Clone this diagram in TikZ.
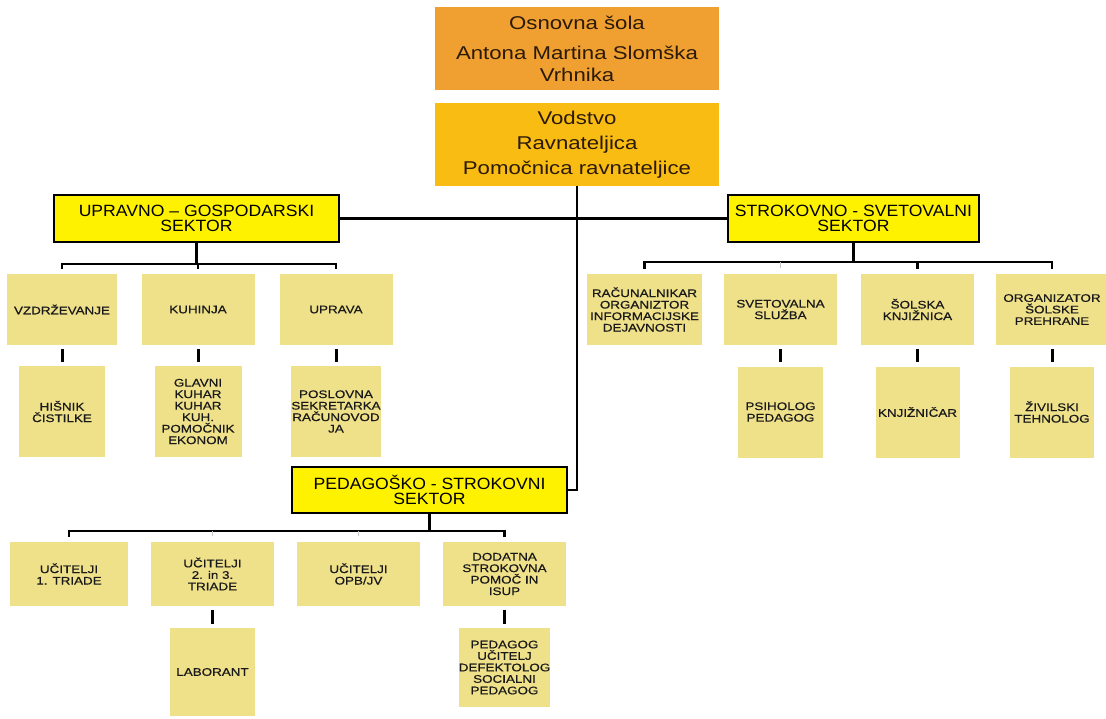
\documentclass[tikz,border=0pt]{standalone}
\usepackage{fontspec}
\setmainfont{Liberation Sans}
\newfontfamily\topfont[FakeStretch=1.2]{Liberation Sans}
\newfontfamily\secfont[FakeStretch=1.08]{Liberation Sans}
\newfontfamily\boxfont[FakeStretch=1.22,FakeBold=0.5]{Liberation Sans}
\definecolor{orangebox}{HTML}{F0A030}
\definecolor{goldbox}{HTML}{F9BC12}
\definecolor{palebox}{HTML}{EFE08A}
\definecolor{topink}{HTML}{2B1A0A}
\begin{document}
\begin{tikzpicture}[x=1pt,y=-1pt,
  topbox/.style={fill=orangebox, draw=none, minimum width=284pt, minimum height=83pt,
    align=center, inner sep=0pt, text=topink, font=\topfont\fontsize{18.5}{22}\selectfont},
  sector/.style={fill=yellow, draw=black, line width=2.5pt, align=center, inner sep=0pt,
    font=\secfont\fontsize{16.3}{15.5}\selectfont},
  pale/.style={fill=palebox, draw=none, align=center, inner sep=0pt, text=black!90,
    font=\boxfont\fontsize{11}{11.5}\selectfont},
  rowA/.style={pale, minimum height=71pt},
  rowB/.style={pale, minimum height=91pt},
  conn/.style={line width=2.6pt, black},
  stub/.style={line width=3pt, black, shorten <=4pt, shorten >=4pt},
  faint/.style={line width=1.2pt, gray!45}]
\useasboundingbox (0,0) rectangle (1106,718);

% top boxes
\node[topbox] (osn) at (577,48.5) {Osnovna šola\\[8pt]Antona Martina Slomška\\Vrhnika};
\node[topbox, fill=goldbox, font=\topfont\fontsize{18.5}{25}\selectfont] (vod) at (577,144.5)
  {Vodstvo\\Ravnateljica\\Pomočnica ravnateljice};

% sectors
\node[sector, minimum width=285pt, minimum height=47pt] (ugs) at (196.5,218.5) {UPRAVNO – GOSPODARSKI\\SEKTOR};
\node[sector, minimum width=251pt, minimum height=47pt] (ssv) at (853.5,218.5) {STROKOVNO - SVETOVALNI\\SEKTOR};
\node[sector, minimum width=275pt, minimum height=46pt] (pss) at (429.5,490) {PEDAGOŠKO - STROKOVNI\\SEKTOR};

% upravno row
\node[rowA, minimum width=110pt] (vzd) at (62,309.5) {VZDRŽEVANJE};
\node[rowA, minimum width=113pt] (kuh) at (198,309.5) {KUHINJA};
\node[rowA, minimum width=113pt] (upv) at (336,309.5) {UPRAVA};
\node[rowB, minimum width=86pt] (his) at (62,411.5) {HIŠNIK\\ČISTILKE};
\node[rowB, minimum width=87pt] (gla) at (198,411.5) {GLAVNI\\KUHAR\\KUHAR\\KUH.\\POMOČNIK\\EKONOM};
\node[rowB, minimum width=86pt] (pos) at (336,411.5) {POSLOVNA\\SEKRETARKA\\RAČUNOVOD\\JA};

% strokovno row
\node[rowA, minimum width=115pt] (rac) at (644.5,309.5) {RAČUNALNIKAR\\ORGANIZTOR\\INFORMACIJSKE\\DEJAVNOSTI};
\node[rowA, minimum width=113pt] (svs) at (780.5,309.5) {SVETOVALNA\\SLUŽBA};
\node[rowA, minimum width=113pt] (skn) at (917.5,309.5) {ŠOLSKA\\KNJIŽNICA};
\node[rowA, minimum width=112pt] (org) at (1052,309.5) {ORGANIZATOR\\ŠOLSKE\\PREHRANE};
\node[rowB, minimum width=85pt] (psi) at (780.5,412) {PSIHOLOG\\PEDAGOG};
\node[rowB, minimum width=84pt] (knj) at (917.5,412) {KNJIŽNIČAR};
\node[rowB, minimum width=84pt] (ziv) at (1052,412) {ŽIVILSKI\\TEHNOLOG};

% pedagosko row
\node[pale, minimum width=118pt, minimum height=64pt] (uc1) at (69,574) {UČITELJI\\1. TRIADE};
\node[pale, minimum width=123pt, minimum height=64pt] (uc2) at (212.5,574) {UČITELJI\\2. in 3.\\TRIADE};
\node[pale, minimum width=123pt, minimum height=64pt] (opb) at (358.5,574) {UČITELJI\\OPB/JV};
\node[pale, minimum width=123pt, minimum height=64pt] (dod) at (504.5,574) {DODATNA\\STROKOVNA\\POMOČ IN\\ISUP};
\node[pale, minimum width=85pt, minimum height=88pt] (lab) at (212.5,672) {LABORANT};
\node[pale, minimum width=87pt, minimum height=79pt] (ped) at (504.5,667.5) {PEDAGOG\\UČITELJ\\DEFEKTOLOG\\SOCIALNI\\PEDAGOG};

% bar coordinates
\coordinate (barU) at (198,264);
\coordinate (barS) at (853.5,262);
\coordinate (barP) at (429.5,531);

% main connectors
\draw[conn] (ugs.east) -- (ssv.west);
\draw[conn] (vod.south) |- (pss.east);

% upravno branches
\draw[conn] (ugs.south) -- (ugs.south |- barU);
\draw[conn] ([yshift=5pt]vzd.north) |- (barU) -| ([yshift=5pt]upv.north);
\draw[conn] (barU -| kuh.north) -- ([yshift=5pt]kuh.north);
\draw[stub] (vzd.south) -- (his.north);
\draw[stub] (kuh.south) -- (gla.north);
\draw[stub] (upv.south) -- (pos.north);

% strokovno branches
\draw[conn] (ssv.south) -- (ssv.south |- barS);
\draw[conn] ([yshift=5pt]rac.north) |- (barS) -| ([yshift=5pt]org.north);
\draw[conn] (barS -| skn.north) -- ([yshift=5pt]skn.north);
\draw[faint] (barS -| svs.north) -- ([yshift=6pt]svs.north);
\draw[stub] (svs.south) -- (psi.north);
\draw[stub] (skn.south) -- (knj.north);
\draw[stub] (org.south) -- (ziv.north);

% pedagosko branches
\draw[conn] (pss.south) -- (pss.south |- barP);
\draw[conn] ([yshift=5pt]uc1.north) |- (barP) -| ([yshift=5pt]dod.north);
\draw[faint] (barP -| uc2.north) -- ([yshift=6pt]uc2.north);
\draw[faint] (barP -| opb.north) -- ([yshift=6pt]opb.north);
\draw[stub] (uc2.south) -- (lab.north);
\draw[stub] (dod.south) -- (ped.north);
\end{tikzpicture}
\end{document}
